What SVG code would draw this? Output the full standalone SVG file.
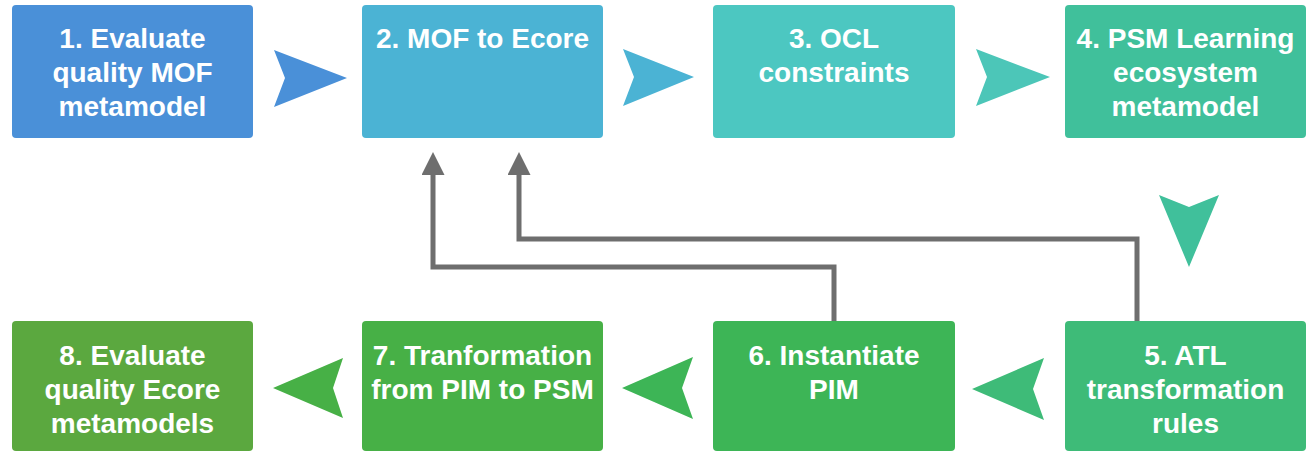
<svg xmlns="http://www.w3.org/2000/svg" width="1306" height="454" viewBox="0 0 1306 454">
  <style>
    .box { stroke: none; }
    .lbl { font-family: "Liberation Sans", Arial, sans-serif; font-weight: bold; font-size: 28px; fill: #ffffff; text-anchor: middle; }
    .link { fill: none; stroke: #6e6e6e; stroke-width: 5; stroke-linejoin: miter; }
  </style>
  <defs>
    <marker id="head" viewBox="0 0 10 10" refX="0" refY="5" markerWidth="5" markerHeight="4.6" markerUnits="strokeWidth" orient="auto">
      <path d="M0,0 L10,5 L0,10 z" fill="#6e6e6e"/>
    </marker>
  </defs>
  <rect width="1306" height="454" fill="#ffffff"/>

  <!-- top row -->
  <g id="n1">
    <rect class="box" x="12" y="5" width="241" height="133" rx="4" fill="#4a90d8"/>
    <text class="lbl" x="132.5" y="48">1. Evaluate</text>
    <text class="lbl" x="132.5" y="82">quality MOF</text>
    <text class="lbl" x="132.5" y="116">metamodel</text>
  </g>
  <g id="n2">
    <rect class="box" x="362" y="5" width="241" height="133" rx="4" fill="#4bb3d4"/>
    <text class="lbl" x="482.5" y="48">2. MOF to Ecore</text>
  </g>
  <g id="n3">
    <rect class="box" x="713" y="5" width="242" height="133" rx="4" fill="#4cc7c1"/>
    <text class="lbl" x="834" y="48">3. OCL</text>
    <text class="lbl" x="834" y="82">constraints</text>
  </g>
  <g id="n4">
    <rect class="box" x="1065" y="5" width="241" height="133" rx="4" fill="#40c09b"/>
    <text class="lbl" x="1185.5" y="48">4. PSM Learning</text>
    <text class="lbl" x="1185.5" y="82">ecosystem</text>
    <text class="lbl" x="1185.5" y="116">metamodel</text>
  </g>

  <!-- bottom row -->
  <g id="n5">
    <rect class="box" x="1065" y="321" width="241" height="130" rx="4" fill="#3ebb78"/>
    <text class="lbl" x="1185.5" y="365">5. ATL</text>
    <text class="lbl" x="1185.5" y="399">transformation</text>
    <text class="lbl" x="1185.5" y="433">rules</text>
  </g>
  <g id="n6">
    <rect class="box" x="713" y="321" width="242" height="130" rx="4" fill="#3db556"/>
    <text class="lbl" x="834" y="365">6. Instantiate</text>
    <text class="lbl" x="834" y="399">PIM</text>
  </g>
  <g id="n7">
    <rect class="box" x="362" y="321" width="241" height="130" rx="4" fill="#47b046"/>
    <text class="lbl" x="482.5" y="365">7. Tranformation</text>
    <text class="lbl" x="482.5" y="399">from PIM to PSM</text>
  </g>
  <g id="n8">
    <rect class="box" x="12" y="321" width="241" height="130" rx="4" fill="#5ba83f"/>
    <text class="lbl" x="132.5" y="365">8. Evaluate</text>
    <text class="lbl" x="132.5" y="399">quality Ecore</text>
    <text class="lbl" x="132.5" y="433">metamodels</text>
  </g>

  <!-- chevron steps and feedback links -->
  <g id="connectors">
    <polygon points="274,50 347,78 274,107 285,78" fill="#4a90d8"/>
    <polygon points="623,49 694,77 623,106 634,77" fill="#4bb3d4"/>
    <polygon points="976,49 1050,77 976,106 987,77" fill="#4cc6b8"/>
    <polygon points="1159,195 1189,207 1219,195 1189,267" fill="#40c09b"/>
    <polygon points="1044,358 1033,389 1044,420 972,389" fill="#3ebb78"/>
    <polygon points="693,357 682,388 693,419 622,388" fill="#3db556"/>
    <polygon points="343,358 333,388 343,418 273,388" fill="#47b046"/>

    <polyline class="link" points="834,321 834,267 433,267 433,175" marker-end="url(#head)"/>
    <polyline class="link" points="1137,321 1137,239 519,239 519,175" marker-end="url(#head)"/>
  </g>
</svg>
